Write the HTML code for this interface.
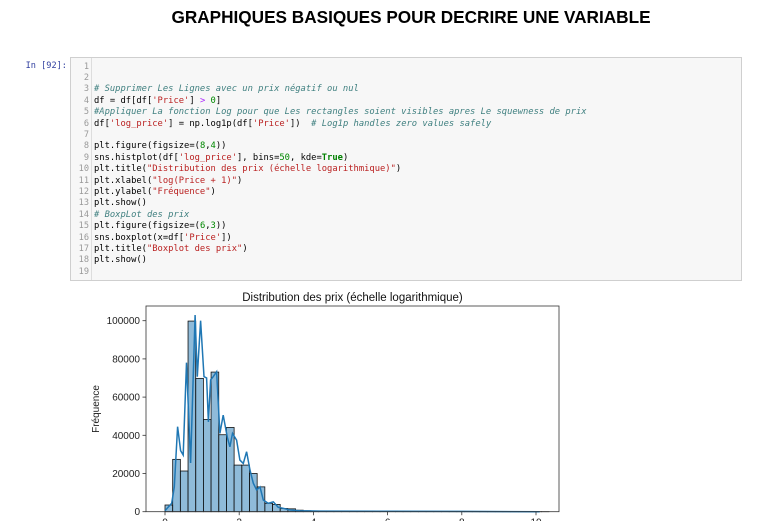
<!DOCTYPE html>
<html><head><meta charset="utf-8">
<style>
body{margin:0;width:758px;height:521px;overflow:hidden;background:#fff;font-family:"Liberation Sans",sans-serif;position:relative}
#title{position:absolute;left:0;width:822px;top:7px;text-align:center;font-weight:bold;font-size:17.2px;color:#000}
#prompt{position:absolute;left:0;width:67px;text-align:right;top:61px;font-family:"DejaVu Sans Mono",monospace;font-size:8.6px;color:#303f9f}
#cell{position:absolute;left:70px;top:57px;width:672px;height:224px;background:#f7f7f7;border:1px solid #cfcfcf;box-sizing:border-box}
#gutter{position:absolute;left:0;top:0;width:20px;height:100%;border-right:1px solid #ddd}
.ln{position:absolute;left:0;width:18px;text-align:right;font-family:"DejaVu Sans Mono",monospace;font-size:8.6px;color:#999}
.cl{position:absolute;left:23px;font-family:"DejaVu Sans Mono",monospace;font-size:8.8px;color:#000;white-space:pre}
.c{color:#408080;font-style:italic}.s{color:#ba2121}.k{color:#008000;font-weight:bold}.n{color:#080}.o{color:#aa22ff}
svg{position:absolute;left:0;top:0}
</style></head><body>
<div id="title">GRAPHIQUES BASIQUES POUR DECRIRE UNE VARIABLE</div>
<div id="prompt">In [92]:</div>
<div id="cell">
<div id="gutter"></div>
</div>
<svg id="chart" width="758" height="521"></svg>
<script>
const codeLines=[
'','',
'<span class="c"># Supprimer Les Lignes avec un prix négatif ou nul</span>',
'df = df[df[<span class="s">\'Price\'</span>] <span class="o">&gt;</span> <span class="n">0</span>]',
'<span class="c">#Appliquer La fonction Log pour que Les rectangles soient visibles apres Le squewness de prix</span>',
'df[<span class="s">\'log_price\'</span>] = np.log1p(df[<span class="s">\'Price\'</span>])  <span class="c"># Log1p handles zero values safely</span>',
'',
'plt.figure(figsize=(<span class="n">8</span>,<span class="n">4</span>))',
'sns.histplot(df[<span class="s">\'log_price\'</span>], bins=<span class="n">50</span>, kde=<span class="k">True</span>)',
'plt.title(<span class="s">"Distribution des prix (échelle logarithmique)"</span>)',
'plt.xlabel(<span class="s">"log(Price + 1)"</span>)',
'plt.ylabel(<span class="s">"Fréquence"</span>)',
'plt.show()',
'<span class="c"># BoxpLot des prix</span>',
'plt.figure(figsize=(<span class="n">6</span>,<span class="n">3</span>))',
'sns.boxplot(x=df[<span class="s">\'Price\'</span>])',
'plt.title(<span class="s">"Boxplot des prix"</span>)',
'plt.show()',
''];
const cell=document.getElementById('cell');
codeLines.forEach((t,i)=>{
  const y=3.5+i*11.4;
  const n=document.createElement('div');n.className='ln';n.style.top=y+'px';n.textContent=i+1;
  
  
  cell.appendChild(n);
  const l=document.createElement('div');l.className='cl';l.style.top=y+'px';l.innerHTML=t;
  
  
  cell.appendChild(l);
});
</script>
<script>
// data
const binStart=0, binWidth=0.207;
const binCounts=[3500,27400,21300,99800,69800,48300,73100,40300,44100,24400,24400,20000,13000,4400,3800,1700,1500,800,500,300,200,150,100,80,60,50,40,30,30,20,20,20,15,15,10,10,10,10,10,10,10,10,10,10,5,5,5,5,5,5];
const kdeX=[0,0.18,0.25,0.34,0.42,0.49,0.58,0.69,0.81,0.87,0.96,1.05,1.12,1.17,1.23,1.30,1.39,1.48,1.57,1.68,1.75,1.82,1.93,2.02,2.11,2.20,2.29,2.38,2.47,2.56,2.65,2.78,2.92,3.05,3.19,3.37,3.64,4.2,6,8,10.1];
const kdeY=[500,4400,13000,44500,32000,29700,78000,25500,103000,70700,100000,70700,70000,47000,69000,70700,73300,41000,50600,39000,34000,41000,37500,27000,25300,31400,21800,14900,11400,13000,6100,4400,5200,2300,1800,900,500,300,200,150,0];
const xTicks=[0,2,4,6,8,10];
const yTicks=[0,20000,40000,60000,80000,100000];
// axes
const L=146,T=306,R=559,B=511.7;
const xs=v=>165+v*37.1;
const ys=v=>B-v*0.00191;
const svg=document.getElementById('chart');
const NS='http://www.w3.org/2000/svg';
function mk(tag,attrs){const e=document.createElementNS(NS,tag);for(const k in attrs)e.setAttribute(k,attrs[k]);svg.appendChild(e);return e;}
binCounts.forEach((c,i)=>{
  const x0=xs(binStart+i*binWidth),x1=xs(binStart+(i+1)*binWidth);
  const r=mk('rect',{x:x0,y:ys(c),width:x1-x0,height:B-ys(c),fill:'rgba(31,119,180,0.5)',stroke:'#111','stroke-width':0.8});
  
  
});
const pts=kdeX.map((x,i)=>xs(x).toFixed(1)+','+ys(kdeY[i]).toFixed(1)).join(' ');
const kde=mk('polyline',{points:pts,fill:'none',stroke:'#1f77b4','stroke-width':1.5});


const frame=mk('rect',{x:L,y:T,width:R-L,height:B-T,fill:'none',stroke:'#333','stroke-width':0.8});


yTicks.forEach(v=>{
  mk('line',{x1:L-3.5,x2:L,y1:ys(v),y2:ys(v),stroke:'#333','stroke-width':0.8});
  const t=mk('text',{x:L-6,y:ys(v)+3.5,'text-anchor':'end','font-size':10,fill:'#222','font-family':'Liberation Sans, sans-serif'});
  t.textContent=v;
  
  
});
xTicks.forEach(v=>{
  mk('line',{x1:xs(v),x2:xs(v),y1:B,y2:B+3.5,stroke:'#333','stroke-width':0.8});
  const t=mk('text',{x:xs(v),y:B+14,'text-anchor':'middle','font-size':10,fill:'#222','font-family':'Liberation Sans, sans-serif'});
  t.textContent=v;
  
  
});
const ct=mk('text',{x:(L+R)/2,y:301,'text-anchor':'middle','font-size':11.5,fill:'#111','font-family':'Liberation Sans, sans-serif'});
ct.textContent='Distribution des prix (échelle logarithmique)';


const yl=mk('text',{x:0,y:0,transform:'translate(99,409) rotate(-90)','text-anchor':'middle','font-size':10,fill:'#222','font-family':'Liberation Sans, sans-serif'});
yl.textContent='Fréquence';


</script>
</body></html>
